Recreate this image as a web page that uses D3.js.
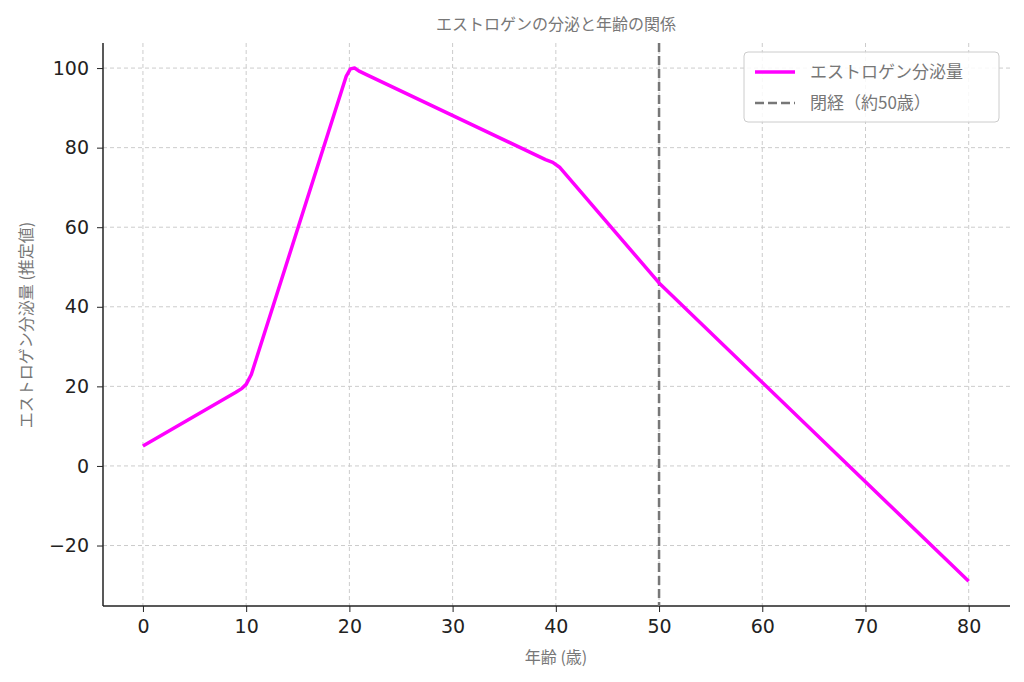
<!DOCTYPE html>
<html><head><meta charset="utf-8">
<script src="https://cdn.jsdelivr.net/npm/d3@7"></script>
<style>body{margin:0;background:#fff}</style></head>
<body><svg id="c" width="1024" height="682"></svg>
<script>
const ages = [0, 9, 9.6, 10, 10.5, 19.7, 20.1, 20.5, 20.9, 21.6, 39, 39.7, 40.4, 50, 80];
const estrogen = [5, 18.5, 19.5, 20.5, 23, 98, 99.8, 100, 99.3, 98.4, 77, 76.3, 75, 46, -29];
const xTicks = [0,10,20,30,40,50,60,70,80];
const yTicks = [-20,0,20,40,60,80,100];
const menopauseAge = 50;
const title = "エストロゲンの分泌と年齢の関係";
const xLabel = "年齢 (歳)";
const yLabel = "エストロゲン分泌量 (推定値)";
const legendLabels = ["エストロゲン分泌量", "閉経（約50歳）"];

const svg = d3.select("#c");
const L=103,R=1010,T=43,B=606;
const x = d3.scaleLinear().domain([-3.87,84]).range([L,R]);
const y = d3.scaleLinear().domain([-35.2,106.3]).range([B,T]);
const jp = "'Noto Sans CJK JP', sans-serif";

const g = svg.append("g");
xTicks.forEach(t=>g.append("line").attr("x1",x(t)).attr("x2",x(t)).attr("y1",T).attr("y2",B).attr("stroke","#ccc").attr("stroke-dasharray","4,3"));
yTicks.forEach(t=>g.append("line").attr("y1",y(t)).attr("y2",y(t)).attr("x1",L).attr("x2",R).attr("stroke","#ccc").attr("stroke-dasharray","4,3"));

const xa = svg.append("g").attr("transform",`translate(0,${B})`).call(d3.axisBottom(x).tickValues(xTicks).tickSize(6).tickPadding(8).tickFormat(d3.format("d")));
const ya = svg.append("g").attr("transform",`translate(${L},0)`).call(d3.axisLeft(y).tickValues(yTicks).tickSize(6).tickPadding(8).tickFormat(d=>d<0?"−"+(-d):d));
[xa,ya].forEach(a=>{a.select(".domain").remove();a.selectAll("text").attr("font-family","DejaVu Sans").attr("font-size",19).attr("fill","#222");a.selectAll("line").attr("stroke","#222");});
svg.append("line").attr("x1",L).attr("x2",L).attr("y1",T).attr("y2",B).attr("stroke","#222").attr("stroke-width",1.5);
svg.append("line").attr("x1",L).attr("x2",R).attr("y1",B).attr("y2",B).attr("stroke","#222").attr("stroke-width",1.5);

svg.append("line").attr("x1",x(menopauseAge)).attr("x2",x(menopauseAge)).attr("y1",T).attr("y2",B).attr("stroke","#777").attr("stroke-width",2.5).attr("stroke-dasharray","9,4");

const pts = ages.map((a,i)=>[a,estrogen[i]]);
svg.append("path").datum(pts).attr("fill","none").attr("stroke","#f0f").attr("stroke-width",3.5).attr("stroke-linejoin","round")
 .attr("d",d3.line().x(d=>x(d[0])).y(d=>y(d[1])).curve(d3.curveLinear));

svg.append("text").attr("x",556).attr("y",30).attr("text-anchor","middle").attr("font-family",jp).attr("font-size",16).attr("fill","#777").text(title);
svg.append("text").attr("x",556).attr("y",663).attr("text-anchor","middle").attr("font-family",jp).attr("font-size",16).attr("fill","#777").text(xLabel);
svg.append("text").attr("transform","translate(32,325) rotate(-90)").attr("text-anchor","middle").attr("font-family",jp).attr("font-size",16).attr("fill","#777").text(yLabel);

const lg = svg.append("g");
lg.append("rect").attr("x",744).attr("y",52).attr("width",255).attr("height",70).attr("rx",4).attr("fill","#fff").attr("fill-opacity",0.85).attr("stroke","#ccc");
lg.append("line").attr("x1",755).attr("x2",795).attr("y1",72).attr("y2",72).attr("stroke","#f0f").attr("stroke-width",3.5);
lg.append("line").attr("x1",755).attr("x2",795).attr("y1",103).attr("y2",103).attr("stroke","#777").attr("stroke-width",2.5).attr("stroke-dasharray","9,4");
legendLabels.forEach((t,i)=>lg.append("text").attr("x",810).attr("y",78+i*31).attr("font-family",jp).attr("font-size",17).attr("fill","#777").text(t));
</script></body></html>
